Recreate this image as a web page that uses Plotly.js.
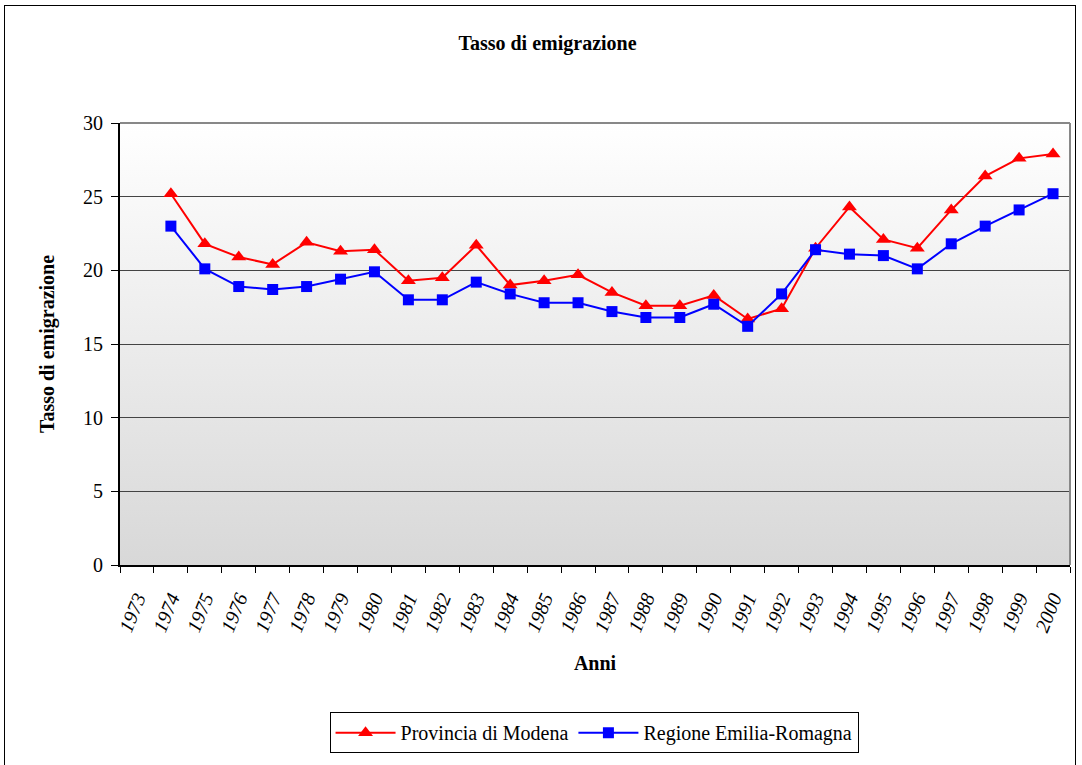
<!DOCTYPE html>
<html>
<head>
<meta charset="utf-8">
<script src="https://cdn.plot.ly/plotly-3.0.1.min.js"></script>
<style>
  html, body { margin: 0; padding: 0; background: #ffffff; }
  #wrap { position: relative; width: 1082px; height: 765px; }
  #frame { position: absolute; left: 4px; top: 5px; width: 1072px; height: 770px; border: 1px solid #000; box-sizing: border-box; pointer-events: none; z-index: 5; }
  #chart { position: absolute; left: 0; top: 0; width: 1082px; height: 765px; }
</style>
</head>
<body>
<div id="wrap">
  <div id="chart"></div>
  <div id="frame"></div>
</div>
<script>
const years = ["1973","1974","1975","1976","1977","1978","1979","1980","1981","1982","1983","1984","1985","1986","1987","1988","1989","1990","1991","1992","1993","1994","1995","1996","1997","1998","1999","2000"];
const modena = [null, 25.2, 21.8, 20.9, 20.4, 21.9, 21.3, 21.4, 19.3, 19.5, 21.7, 19.0, 19.3, 19.7, 18.5, 17.6, 17.6, 18.3, 16.7, 17.4, 21.5, 24.3, 22.1, 21.5, 24.1, 26.4, 27.6, 27.9];
const emilia = [null, 23.0, 20.1, 18.9, 18.7, 18.9, 19.4, 19.9, 18.0, 18.0, 19.2, 18.4, 17.8, 17.8, 17.2, 16.8, 16.8, 17.7, 16.2, 18.4, 21.4, 21.1, 21.0, 20.1, 21.8, 23.0, 24.1, 25.2];
const seriesNames = ["Provincia di Modena", "Regione Emilia-Romagna"];
const yTicks = [0, 5, 10, 15, 20, 25, 30];

const serif = "Liberation Serif, Times New Roman, serif";

const gradSvg = "data:image/svg+xml;utf8," + encodeURIComponent(
  '<svg xmlns="http://www.w3.org/2000/svg" width="100" height="100" preserveAspectRatio="none">' +
  '<defs><linearGradient id="g" x1="0" y1="0" x2="0" y2="1">' +
  '<stop offset="0" stop-color="#ffffff"/><stop offset="1" stop-color="#d8d8d8"/>' +
  '</linearGradient></defs><rect width="100" height="100" fill="url(#g)"/></svg>');

const traces = [
  {
    x: years, y: modena, name: seriesNames[0], type: "scatter", mode: "lines+markers",
    line: { color: "#ff0000", width: 2 },
    marker: { symbol: "triangle-up", size: 13, color: "#ff0000" },
    connectgaps: false
  },
  {
    x: years, y: emilia, name: seriesNames[1], type: "scatter", mode: "lines+markers",
    line: { color: "#0000ff", width: 2 },
    marker: { symbol: "square", size: 11, color: "#0000ff" },
    connectgaps: false
  }
];

const layout = {
  width: 1082, height: 765,
  margin: { l: 120, r: 12, t: 123, b: 200 },
  paper_bgcolor: "rgba(0,0,0,0)",
  plot_bgcolor: "rgba(0,0,0,0)",
  font: { family: serif, color: "#000", size: 20 },
  showlegend: true,
  title: {
    text: "<b>Tasso di emigrazione</b>",
    font: { family: serif, size: 20, color: "#000" },
    x: 0.506, xref: "container", xanchor: "center",
    y: 1 - 43 / 765, yref: "container", yanchor: "middle"
  },
  xaxis: {
    type: "category",
    range: [-0.5, 27.5],
    tickson: "boundaries",
    ticks: "outside", ticklen: 6, tickcolor: "#000", tickwidth: 1,
    tickangle: -68,
    ticklabelstandoff: 12,
    tickfont: { family: serif, size: 20, style: "italic", color: "#000" },
    showline: true, linecolor: "#000", linewidth: 2,
    showgrid: false, zeroline: false,
    mirror: false,
    title: { text: "<b>Anni</b>", font: { family: serif, size: 20, color: "#000" }, standoff: 22 },
    fixedrange: true
  },
  yaxis: {
    range: [0, 30],
    tickvals: yTicks,
    ticks: "outside", ticklen: 7, tickcolor: "#000", tickwidth: 1,
    ticklabelstandoff: 4,
    tickfont: { family: serif, size: 20, color: "#000" },
    showline: true, linecolor: "#000", linewidth: 2,
    showgrid: true, gridcolor: "#444", gridwidth: 1,
    zeroline: false,
    title: { text: "<b>Tasso di emigrazione</b>", font: { family: serif, size: 20, color: "#000" }, standoff: 23 },
    fixedrange: true
  },
  images: [{
    source: gradSvg, xref: "paper", yref: "paper",
    x: 0, y: 1, sizex: 1, sizey: 1, sizing: "stretch",
    xanchor: "left", yanchor: "top", layer: "below"
  }],
  shapes: [
    { type: "line", xref: "paper", yref: "paper", x0: 0, x1: 1, y0: 1, y1: 1, line: { color: "#888", width: 2 } },
    { type: "line", xref: "paper", yref: "paper", x0: 1, x1: 1, y0: 0, y1: 1, line: { color: "#888", width: 2 } }
  ],
  legend: {
    orientation: "h",
    x: 0.499, xanchor: "center",
    y: -0.333, yanchor: "top",
    bordercolor: "#000", borderwidth: 1,
    bgcolor: "#fff",
    font: { family: serif, size: 20, color: "#000" },
    itemwidth: 60,
    tracegroupgap: 0
  }
};

Plotly.newPlot("chart", traces, layout, { staticPlot: true, displayModeBar: false });
</script>
</body>
</html>
